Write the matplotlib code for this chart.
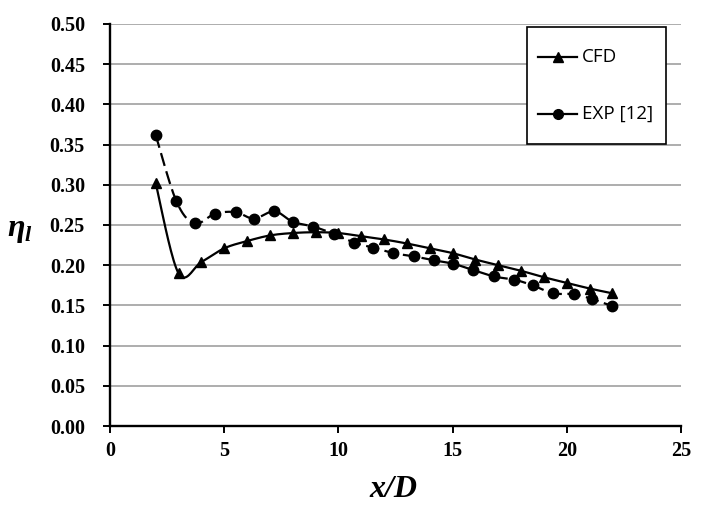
import numpy as np
import matplotlib
matplotlib.use("Agg")
import matplotlib.pyplot as plt
from matplotlib.lines import Line2D
from matplotlib.patches import Rectangle

# ---- data ----
cfd_x = [2, 3, 4, 5, 6, 7, 8, 9, 10, 11, 12, 13, 14, 15, 16, 17, 18, 19, 20, 21, 22]
cfd_y = [0.302, 0.190, 0.204, 0.221, 0.230, 0.237, 0.240, 0.241, 0.240, 0.236, 0.232,
         0.227, 0.221, 0.215, 0.207, 0.200, 0.193, 0.185, 0.178, 0.171, 0.165]

exp_x = [2.0, 2.9, 3.7, 4.6, 5.5, 6.3, 7.2, 8.0, 8.9, 9.8, 10.7, 11.5, 12.4, 13.3,
         14.2, 15.0, 15.9, 16.8, 17.7, 18.5, 19.4, 20.3, 21.1, 22.0]
exp_y = [0.362, 0.280, 0.252, 0.264, 0.266, 0.258, 0.267, 0.254, 0.248, 0.239, 0.228,
         0.222, 0.215, 0.211, 0.206, 0.202, 0.194, 0.186, 0.182, 0.175, 0.165, 0.164,
         0.158, 0.149]

x_ticks = [0, 5, 10, 15, 20, 25]
y_ticks = [0.00, 0.05, 0.10, 0.15, 0.20, 0.25, 0.30, 0.35, 0.40, 0.45, 0.50]
labels = ["CFD", "EXP [12]"]


def smooth(xs, ys, n=20):
    """Excel-like smoothed line (Bezier/Catmull-Rom through the points)."""
    p = np.column_stack([xs, ys]).astype(float)
    p = np.vstack([p[0], p, p[-1]])
    out = []
    t = np.linspace(0, 1, n, endpoint=False)
    for i in range(1, len(p) - 2):
        p0, p1, p2, p3 = p[i - 1], p[i], p[i + 1], p[i + 2]
        c1 = p1 + (p2 - p0) / 6.0
        c2 = p2 - (p3 - p1) / 6.0
        seg = ((1 - t) ** 3)[:, None] * p1 + (3 * (1 - t) ** 2 * t)[:, None] * c1 \
            + (3 * (1 - t) * t ** 2)[:, None] * c2 + (t ** 3)[:, None] * p2
        out.append(seg)
    out.append(p[-2][None, :])
    out = np.vstack(out)
    return out[:, 0], out[:, 1]


W, H = 707, 507
fig = plt.figure(figsize=(W / 100, H / 100), dpi=100)
ax = fig.add_axes([110 / W, (H - 426) / H, (681 - 110) / W, (426 - 24) / H])

sx, sy = smooth(cfd_x, cfd_y)
ax.plot(sx, sy, color="black", lw=1.6, zorder=3)
ax.plot(cfd_x, cfd_y, ls="none", marker="^", ms=7.8, color="black", zorder=4)

ex, ey = smooth(exp_x, exp_y)
ln, = ax.plot(ex, ey, color="black", lw=1.6, zorder=3)
ln.set_dashes([6, 2.5])
ax.plot(exp_x, exp_y, ls="none", marker="o", ms=7.5, color="black", zorder=4)

ax.set_xlim(0, 25)
ax.set_ylim(0, 0.5)
ax.set_xticks(x_ticks)
ax.set_yticks(y_ticks)
ax.set_xticklabels([str(v) for v in x_ticks])
ax.set_yticklabels([f"{v:.2f}" for v in y_ticks])
ax.yaxis.grid(True, color="#a0a0a0", lw=1.2)
ax.set_axisbelow(True)
for s in ["top", "right"]:
    ax.spines[s].set_visible(False)
for s in ["left", "bottom"]:
    ax.spines[s].set_linewidth(1.7)
    ax.spines[s].set_color("black")
ax.tick_params(direction="out", length=5, width=1.4, colors="black")
ax.tick_params(axis="y", pad=13)
ax.tick_params(axis="x", pad=6)
for lab in ax.get_xticklabels() + ax.get_yticklabels():
    lab.set_fontfamily("Liberation Serif")
    lab.set_fontweight("bold")
    lab.set_fontsize(14.5)

fig.text(393 / W, 1 - 497 / H, "x/D", fontfamily="Liberation Serif", fontweight="bold",
         fontstyle="italic", fontsize=23, ha="center", va="baseline")
fig.text(7 / W, 1 - 236 / H, "η", fontfamily="Liberation Serif", fontweight="bold",
         fontstyle="italic", fontsize=23, ha="left", va="baseline")
fig.text(25 / W, 1 - 241 / H, "l", fontfamily="Liberation Serif", fontweight="bold",
         fontstyle="italic", fontsize=16, ha="left", va="baseline")

# legend drawn as a framed box
fig.patches.append(Rectangle((527 / W, 1 - 144 / H), (666 - 527) / W, (144 - 27) / H,
                             transform=fig.transFigure, facecolor="white",
                             edgecolor="black", lw=1.2, zorder=5))
markers = ["^", "o"]
rows = [57, 114]
for lab, mk, yy in zip(labels, markers, rows):
    yf = 1 - yy / H
    fig.add_artist(Line2D([538 / W, 577 / W], [yf, yf], transform=fig.transFigure,
                          color="black", lw=1.6, zorder=6))
    fig.add_artist(Line2D([558 / W], [yf], transform=fig.transFigure, color="black",
                          marker=mk, ms=7, ls="none", zorder=7))
    fig.text(582 / W, yf, lab, fontfamily="Open Sans", fontsize=13.5,
             ha="left", va="center", zorder=7)

fig.savefig("out.png", dpi=100)
